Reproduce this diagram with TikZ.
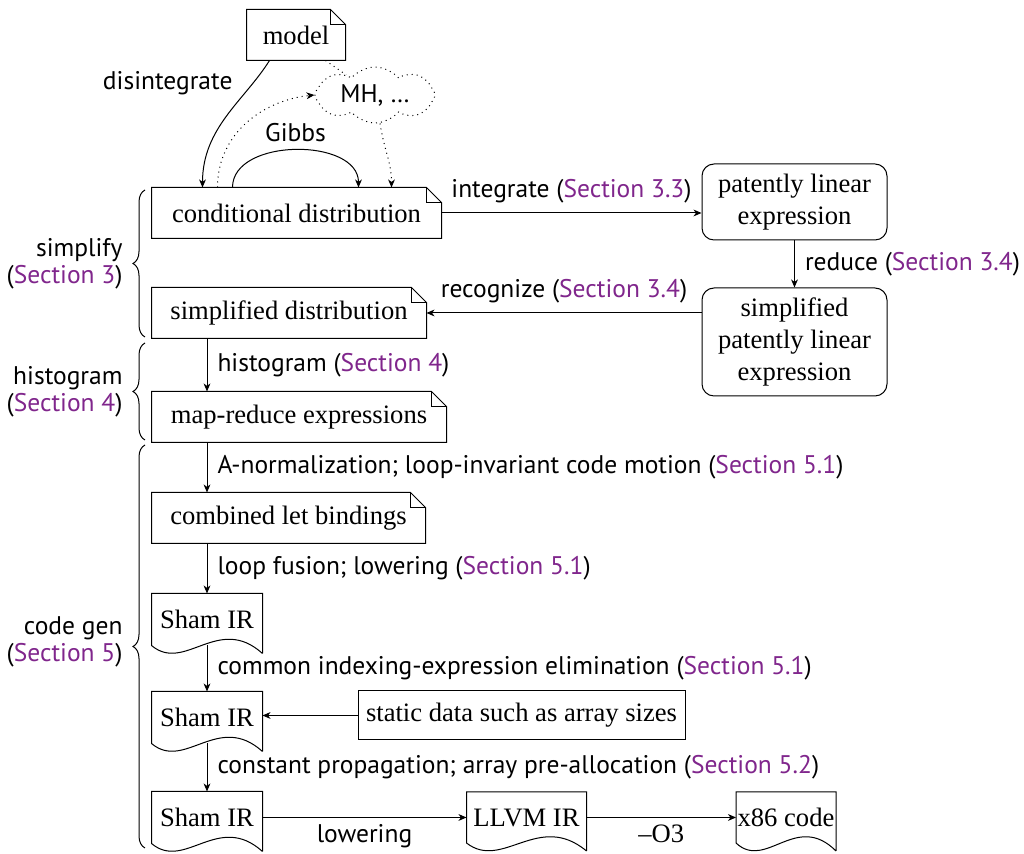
\documentclass[tikz,border=0pt]{standalone}
\usepackage{fontspec}
\setmainfont{Liberation Serif}
\setsansfont{PT Sans}
\usetikzlibrary{shapes.symbols,decorations.pathreplacing,calc,arrows.meta}
\definecolor{secpurple}{RGB}{128,38,140}
\newcommand\mysec[1]{\textcolor{secpurple}{Section~#1}}
\newcommand\notebox[1]{%
  \draw (#1.south west) -- (#1.south east) -- ([yshift=-7.5pt]#1.north east) -- ([xshift=-7.5pt]#1.north east) -- (#1.north west) -- cycle;
  \draw[line width=0.35pt] ([xshift=-7.5pt]#1.north east) -- ([xshift=-7.5pt,yshift=-7.5pt]#1.north east) -- ([yshift=-7.5pt]#1.north east);}
\newcommand\docbox[1]{%
  \draw ($(#1.south east)+(0,8)$) -- (#1.north east) -- (#1.north west) -- (#1.south west)
    .. controls ($(#1.south west)!0.3!(#1.south east)+(0,28)$) and ($(#1.south west)!0.6!(#1.south east)+(0,-32)$) .. ($(#1.south east)+(0,8)$);}
\begin{document}
\begin{tikzpicture}[x=0.5pt,y=-0.5pt, line width=0.5pt,
  every node/.style={font=\fontsize{13.3}{16}\selectfont},
  box/.style={inner sep=0pt, minimum height=25pt},
  lab/.style={font=\sffamily\fontsize{12.75}{13.5}\selectfont, inner sep=1pt},
  arr/.style={-{Stealth[length=4pt,width=3.4pt,inset=1.2pt]}},
  rbox/.style={draw, rounded corners=6pt, minimum width=92.5pt, align=center, inner sep=0pt}]
\useasboundingbox (0,0) rectangle (1024,854);

% nodes
\node[box, minimum width=49pt] (model) at (296,35) {model};
\node[box, minimum width=144.5pt] (cond) at (296.5,213) {conditional distribution};
\node[rbox, minimum height=38pt] (pl) at (794.5,202) {patently linear\\expression};
\node[rbox, minimum height=54pt] (spl) at (794.5,342) {simplified\\patently linear\\expression};
\node[box, minimum width=137pt] (sd) at (289,313) {simplified distribution};
\node[box, minimum width=147pt] (mr) at (299,417) {map-reduce expressions};
\node[box, minimum width=136.5pt] (clb) at (288.5,518) {combined let bindings};
\node[box, minimum width=55pt, minimum height=25.5pt] (s1) at (207,619.5) {Sham IR};
\node[box, minimum width=55pt, minimum height=25.5pt] (s2) at (207,717.5) {Sham IR};
\node[box, minimum width=55pt, minimum height=25.5pt] (s3) at (207,817.5) {Sham IR};
\node[box, draw, minimum width=163.5pt, minimum height=24.5pt] (static) at (521.5,715.5) {static data such as array sizes};
\node[box, minimum width=59.5pt, minimum height=25pt] (llvm) at (526.5,817.5) {LLVM IR};
\node[box, minimum width=49.5pt, minimum height=25pt] (x86) at (786,817.5) {x86 code};
\node[cloud, cloud puffs=8, cloud puff arc=100, aspect=2.4, draw, dotted, lab, minimum width=60pt, minimum height=28pt, inner sep=0pt] (mh) at (375,95) {MH, \dots};

% outlines
\notebox{model}
\notebox{cond}
\notebox{sd}
\notebox{mr}
\notebox{clb}
\docbox{s1}
\docbox{s2}
\docbox{s3}
\docbox{llvm}
\docbox{x86}

% top connectors
\draw[arr] ($(model.south west)+(23,0)$) .. controls +(-25,40) and +(0,-60) .. node[lab,pos=0.2,left=9pt] {disintegrate} ($(cond.north west)+(51,0)$);
\draw[arr, dotted] ($(cond.north west)+(66,0)$) .. controls +(0,-55) and +(-50,5) .. (mh.west);
\draw[dotted] ($(model.south east)+(-20,0)$) -- (mh);
\draw[arr] ($(cond.north west)+(81,0)$) .. controls +(0,-50) and +(0,-50) .. node[lab,above=3pt] {Gibbs} ($(cond.north west)+(207,0)$);
\draw[arr, dotted] ($(mh.south)+(5,0)$) .. controls +(5,30) and +(0,-25) .. ($(cond.north west)+(240,0)$);

% main flow
\draw[arr] (cond.east) -- node[lab,above=3.5pt] {integrate (\mysec{3.3})} (cond.east -| pl.west);
\draw[arr] (pl) -- node[lab,right=4pt] {reduce (\mysec{3.4})} (spl);
\draw[arr] (sd.east -| spl.west) -- node[lab,above=3.5pt] {recognize (\mysec{3.4})} (sd.east);
\draw[arr] (sd.south -| s1.center) -- node[lab,right=4pt] {histogram (\mysec{4})} (mr.north -| s1.center);
\draw[arr] (mr.south -| s1.center) -- node[lab,right=4pt] {A-normalization; loop-invariant code motion (\mysec{5.1})} (clb.north -| s1.center);
\draw[arr] (clb.south -| s1.center) -- node[lab,right=4pt] {loop fusion; lowering (\mysec{5.1})} (s1.north);
\draw[arr] (s1.south) -- node[lab,right=4pt] {common indexing-expression elimination (\mysec{5.1})} (s2.north);
\draw[arr] (static.west) -- (static.west -| s2.east);
\draw[arr] (s2.south) -- node[lab,right=4pt] {constant propagation; array pre-allocation (\mysec{5.2})} (s3.north);
\draw[arr] (s3.east) -- node[lab,below=2pt] {lowering} (llvm.west);
\draw[arr] (llvm.east) -- node[below=0pt] {--O3} (x86.west);

% braces
\draw[decorate,decoration={brace,amplitude=6pt}] (145,337) -- (145,190);
\draw[decorate,decoration={brace,amplitude=6pt}] (145,440) -- (145,343);
\draw[decorate,decoration={brace,amplitude=6pt}] (145,848) -- (145,445);
\node[lab, anchor=east, align=right] (lsimp) at (125,264) {simplify\\(\mysec{3})};
\node[lab, anchor=east, align=right] (lhist) at (125,392) {histogram\\(\mysec{4})};
\node[lab, anchor=east, align=right] (lcode) at (125,642) {code gen\\(\mysec{5})};
\end{tikzpicture}
\end{document}
